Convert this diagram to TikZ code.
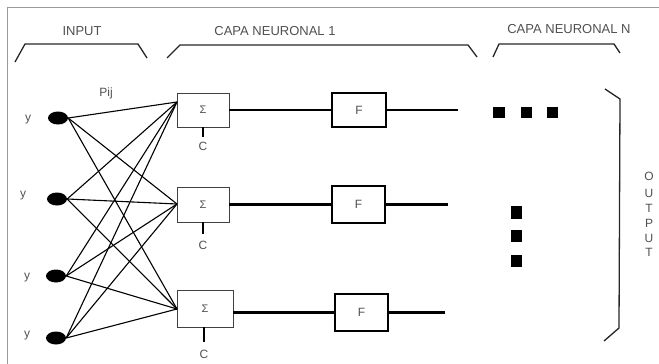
\documentclass[tikz,border=0pt]{standalone}
\usepackage{fontspec}
\setmainfont{Liberation Sans}
\usetikzlibrary{shapes.geometric}
\definecolor{txt}{HTML}{505050}
\definecolor{frame}{HTML}{9A9A9A}
\tikzset{
  lbl/.style={text=txt, inner sep=0pt, font=\fontsize{12}{12}\selectfont},
  head/.style={text=txt, inner sep=0pt, font=\fontsize{13}{13}\selectfont},
  inp/.style={ellipse, fill=black, minimum width=20pt, minimum height=13pt, inner sep=0pt},
  sumbox/.style={draw=black!75, line width=0.9pt, inner sep=0pt, text=txt, font=\fontsize{11}{11}\selectfont},
  fbox/.style={draw=black, line width=1.7pt, inner sep=0pt, text=txt, font=\fontsize{12}{12}\selectfont},
  wire/.style={line width=1.1pt, black},
  thick wire/.style={line width=2.8pt, black},
  tick/.style={line width=1.3pt, black},
  brace/.style={line width=1.3pt, black!85, line join=round},
  dot/.style={fill=black, inner sep=0pt},
}
\begin{document}
\begin{tikzpicture}[x=1pt, y=-1pt]
\useasboundingbox (0,0) rectangle (659,364);
% frame
\draw[frame, line width=1pt] (7,364) -- (7,7.5) -- (659,7.5);

% headings and braces
\node[head] (hin) at (82,31) {INPUT};
\node[head] (hc1) at (275,31) {CAPA NEURONAL 1};
\node[head] (hcn) at (569,29) {CAPA NEURONAL N};
\draw[brace] (15,62) -- (25,44) -- (138,44) -- (147,58);
\draw[brace] (167,58) -- (180,45) -- (468,45) -- (477,57);
\draw[brace] (493,57) -- (499,44) -- (614,44) -- (620,53);

% inputs
\node[inp] (i1) at (58,118) {};
\node[inp] (i2) at (57,199) {};
\node[inp] (i3) at (56,276) {};
\node[inp] (i4) at (56,338) {};
\node[lbl] (y1) at (28,120) {y};
\node[lbl] (y2) at (23,196) {y};
\node[lbl] (y3) at (27,278) {y};
\node[lbl] (y4) at (27,336) {y};
\node[lbl] (pij) at (106,93) {Pij};

% sum boxes
\node[sumbox, minimum width=52pt, minimum height=34pt] (s1) at (203,110) {Σ};
\node[sumbox, minimum width=52pt, minimum height=35pt] (s2) at (203,204.5) {Σ};
\node[sumbox, minimum width=56pt, minimum height=37pt] (s3) at (205,308.5) {Σ};
\coordinate (s1in) at (177,102);
\coordinate (s2in) at (177,204);
\coordinate (s3in) at (177,309);

% connections
\foreach \i in {i1,i2,i3,i4}{
  \foreach \s in {s1in,s2in,s3in}{
    \draw[wire] (\i.east) -- (\s);
  }
}

% bias
\node[lbl] (c1) at (203,146) {C};
\node[lbl] (c2) at (203,245) {C};
\node[lbl] (c3) at (204,354) {C};
\draw[tick] (s1.south) -- (203,137);
\draw[tick] (s2.south) -- (203,234);
\draw[tick] (204,327) -- (204,342);

% activation boxes
\node[fbox, minimum width=54pt, minimum height=34pt] (f1) at (359,110) {F};
\node[fbox, minimum width=53pt, minimum height=37pt] (f2) at (358.5,204.5) {F};
\node[fbox, minimum width=53pt, minimum height=37pt] (f3) at (361.5,312.5) {F};
\coordinate (o1) at (458,110);
\coordinate (o2) at (448,204.5);
\coordinate (o3) at (445,312.5);
\draw[thick wire] (s1.east) -- (f1.west);
\draw[thick wire] (s2.east) -- (f2.west);
\draw[thick wire] (s3.east |- f3.west) -- (f3.west);
\draw[thick wire] (f1.east) -- (o1);
\draw[thick wire] (f2.east) -- (o2);
\draw[thick wire] (f3.east) -- (o3);

% dots
\node[dot, minimum width=12pt, minimum height=11pt] (h1) at (499,112.5) {};
\node[dot, minimum width=11pt, minimum height=11pt] (h2) at (526.5,112.5) {};
\node[dot, minimum width=11pt, minimum height=11pt] (h3) at (552.5,112.5) {};
\node[dot, minimum width=11pt, minimum height=13pt] (v1) at (516.5,212.5) {};
\node[dot, minimum width=11pt, minimum height=12pt] (v2) at (516.5,235.5) {};
\node[dot, minimum width=11pt, minimum height=12pt] (v3) at (516.5,261) {};

% output bracket
\draw[brace] (605,89) -- (620,99) -- (619,328) -- (604,341);
\node[lbl] (oO) at (649,176.5) {O};
\node[lbl] (oU1) at (649,193.5) {U};
\node[lbl] (oT1) at (649,208) {T};
\node[lbl] (oP) at (649,223) {P};
\node[lbl] (oU2) at (649,238) {U};
\node[lbl] (oT2) at (649,252.5) {T};
\end{tikzpicture}
\end{document}
